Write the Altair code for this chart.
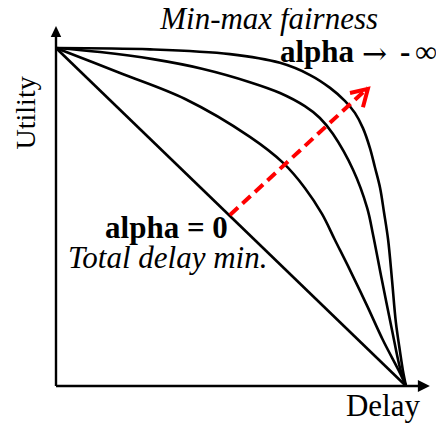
import altair as alt
import pandas as pd

# ---- data (normalised: x 0..1 = delay, y 0..1 = utility) ----
curve_a_x = [0, 0.269, 0.497, 0.64, 0.726, 0.783, 0.826, 0.854, 0.877, 0.897, 0.911, 0.926, 0.937, 0.949, 0.96, 0.971, 0.983, 0.991, 1.0]
curve_a_y = [1, 0.996, 0.982, 0.956, 0.92, 0.882, 0.843, 0.808, 0.763, 0.704, 0.648, 0.586, 0.515, 0.432, 0.314, 0.189, 0.101, 0.047, 0]

curve_b_x = [0, 0.126, 0.277, 0.42, 0.554, 0.64, 0.711, 0.754, 0.791, 0.849, 0.889, 0.906, 0.931, 0.96, 0.983, 1.0]
curve_b_y = [1, 0.988, 0.967, 0.938, 0.899, 0.867, 0.828, 0.793, 0.746, 0.639, 0.527, 0.447, 0.314, 0.166, 0.053, 0]

curve_c_x = [0, 0.183, 0.369, 0.554, 0.649, 0.711, 0.76, 0.797, 0.84, 0.889, 0.934, 0.983, 1.0]
curve_c_y = [1, 0.926, 0.849, 0.737, 0.66, 0.586, 0.509, 0.432, 0.343, 0.237, 0.136, 0.038, 0]

line_x = [0, 1.0]
line_y = [1, 0]

red_x = [0.497, 0.891]
red_y = [0.506, 0.882]
head_x = [0.84, 0.891, 0.877]
head_y = [0.867, 0.879, 0.825]

yaxis_x = [0, 0]
yaxis_y = [0, 1.035]
xaxis_x = [0, 1.04]
xaxis_y = [0, 0]

labels = ["Min-max fairness", "alpha", "\u2192", "-", "\u221e", "alpha = 0", "Total delay min.", "Delay", "Utility"]

XD = [-0.137143, 1.085714]
YD = [-0.109467, 1.118343]


def X(f="x"):
    return alt.X(f"{f}:Q", scale=alt.Scale(domain=XD, nice=False, zero=False), axis=None)


def Y(f="y"):
    return alt.Y(f"{f}:Q", scale=alt.Scale(domain=YD, nice=False, zero=False), axis=None)


rows = []
for name, xs, ys in [("a", curve_a_x, curve_a_y), ("b", curve_b_x, curve_b_y),
                     ("c", curve_c_x, curve_c_y), ("s", line_x, line_y)]:
    for i, (xv, yv) in enumerate(zip(xs, ys)):
        rows.append({"s": name, "o": i, "x": xv, "y": yv})
curves_df = pd.DataFrame(rows)

curves = alt.Chart(curves_df).mark_line(
    color="black", strokeWidth=2.6, interpolate="catmull-rom"
).encode(x=X(), y=Y(), detail="s:N", order="o:Q")

axes_df = pd.DataFrame(
    [{"s": "y", "o": i, "x": a, "y": b} for i, (a, b) in enumerate(zip(yaxis_x, yaxis_y))]
    + [{"s": "x", "o": i, "x": a, "y": b} for i, (a, b) in enumerate(zip(xaxis_x, xaxis_y))]
)
axes = alt.Chart(axes_df).mark_line(color="black", strokeWidth=2.4).encode(
    x=X(), y=Y(), detail="s:N", order="o:Q"
)

up_head = alt.Chart(pd.DataFrame({"x": [0], "y": [1.049]})).mark_point(
    shape="M0,-1L-0.95,1L0.95,1Z", filled=True, color="black", opacity=1, size=121
).encode(x=X(), y=Y())
right_head = alt.Chart(pd.DataFrame({"x": [1.051], "y": [0]})).mark_point(
    shape="M1,0L-1,-1L-1,1Z", filled=True, color="black", opacity=1, size=144
).encode(x=X(), y=Y())

red = alt.Chart(pd.DataFrame({"x": red_x, "y": red_y, "o": [0, 1]})).mark_line(
    color="#ff0000", strokeWidth=4, strokeDash=[11, 6]
).encode(x=X(), y=Y(), order="o:Q")
red_head = alt.Chart(pd.DataFrame({"x": head_x, "y": head_y, "o": [0, 1, 2]})).mark_line(
    color="#ff0000", strokeWidth=4
).encode(x=X(), y=Y(), order="o:Q")

FONT = "Liberation Serif"


def txt(x, y, t, **kw):
    base = dict(font=FONT, fontSize=31, baseline="alphabetic")
    base.update(kw)
    return alt.Chart(pd.DataFrame({"x": [x], "y": [y], "t": [t]})).mark_text(**base).encode(
        x=X(), y=Y(), text="t:N"
    )


t_title = txt(0.609, 1.056, labels[0], fontStyle="italic", align="center")
t_alpha = txt(0.64, 0.959, labels[1], fontWeight="bold", align="left")
t_arrow = txt(0.874, 0.953, labels[2], font="DejaVu Serif", fontSize=30, align="left")
t_minus = txt(0.983, 0.959, labels[3], fontWeight="bold", align="left")
t_inf = txt(1.026, 0.959, labels[4], align="left")
t_zero = txt(0.491, 0.438, labels[5], fontWeight="bold", align="right")
t_total = txt(0.034, 0.349, labels[6], fontStyle="italic", align="left")
t_delay = txt(0.934, -0.0888, labels[7], align="center")
t_util = txt(-0.06, 0.808, labels[8], fontSize=28, angle=270, align="center")

chart = alt.layer(
    axes, up_head, right_head, curves, red, red_head,
    t_title, t_alpha, t_arrow, t_minus, t_inf, t_zero, t_total, t_delay, t_util
).properties(
    width=428, height=415, autosize=alt.AutoSizeParams(type="none"), padding=0
).configure_view(stroke=None)

chart.save("out.html", embed_options={"renderer": "svg", "actions": False})
